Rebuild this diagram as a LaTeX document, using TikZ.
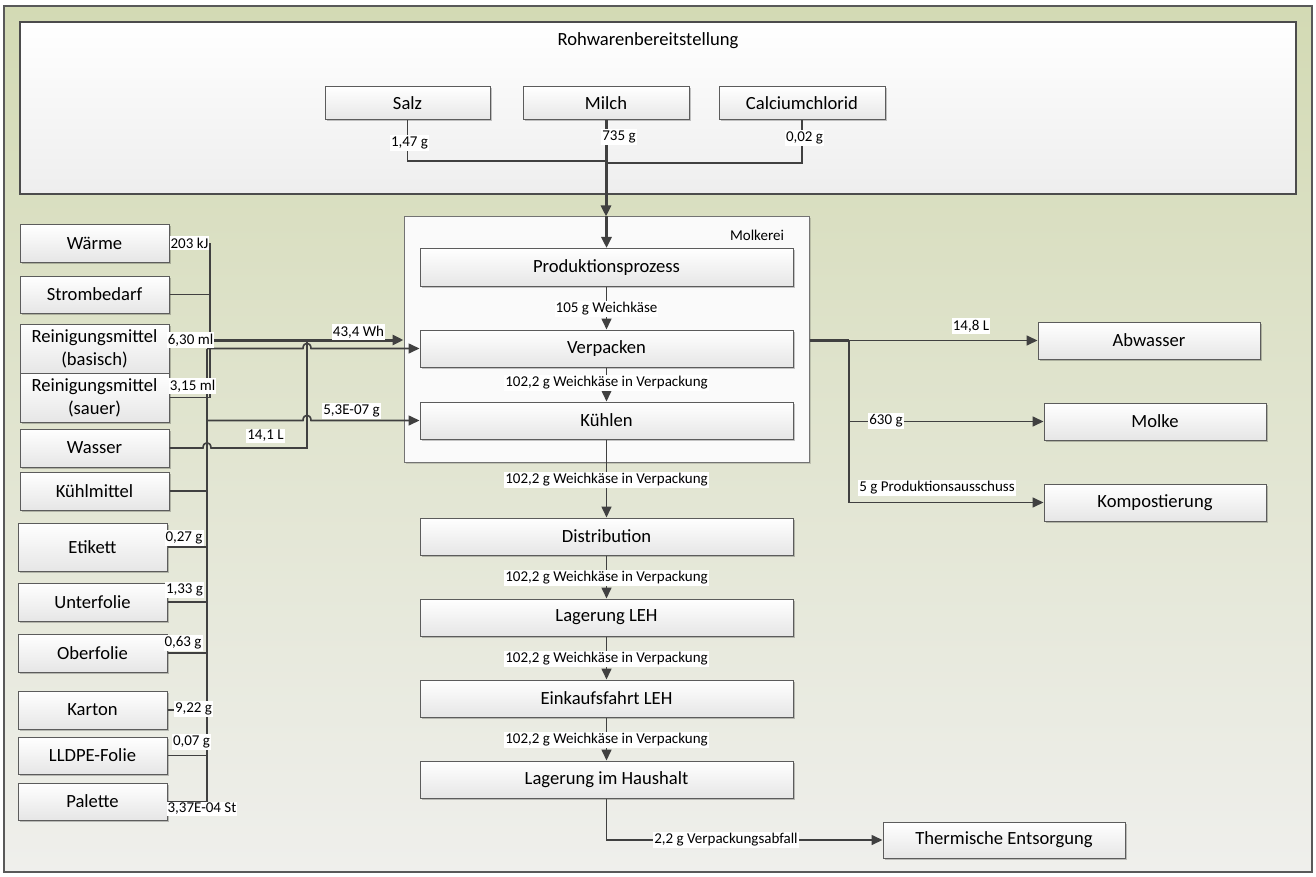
\documentclass[tikz,border=0pt]{standalone}
\usepackage{fontspec}
\setmainfont{Carlito}
\usetikzlibrary{arrows.meta,shadows,calc}
\definecolor{lineC}{HTML}{404040}
\definecolor{boxC}{HTML}{5C5C5C}
\definecolor{boxBot}{HTML}{E6E6E6}
\definecolor{bgTop}{HTML}{D3DAB4}
\definecolor{bgBot}{HTML}{EFEFEC}
\definecolor{groupBot}{HTML}{EEEEEE}
\tikzset{
  box/.style={draw=boxC, line width=1pt, top color=white, bottom color=boxBot,
    inner sep=0pt, align=center, font=\fontsize{18.6}{23}\selectfont,
    drop shadow={shadow xshift=1.5pt, shadow yshift=-1.5pt, fill=black, opacity=0.22}},
  lbl/.style={fill=white, inner xsep=1pt, inner ysep=1.5pt, font=\fontsize{15}{17}\selectfont},
  ln/.style={draw=lineC, line width=1.6pt},
  thk/.style={draw=lineC, line width=3pt},
  tip/.style={-{Triangle[length=11pt,width=10pt]}},
}
\begin{document}
\begin{tikzpicture}[x=1pt,y=-1pt]
\useasboundingbox (0,0) rectangle (1316,877);

% overall background panel
\shade[top color=bgTop, bottom color=bgBot] (4,6) rectangle (1312,872);
\draw[draw=black!65, line width=1.5pt] (4,6) rectangle (1312,872);

% raw material supply group
\shade[top color=white, bottom color=groupBot] (20,22) rectangle (1296,194);
\draw[draw=black!70, line width=1.2pt] (20,22) rectangle (1296,194);
\node[font=\fontsize{18.6}{21}\selectfont] (rohtitle) at (648,41) {Rohwarenbereitstellung};

% dairy group
\node[draw=black!55, line width=1pt, fill=black!2, minimum width=405pt, minimum height=245pt, inner sep=0pt,
  drop shadow={shadow xshift=1.5pt, shadow yshift=-1.5pt, fill=black, opacity=0.15}] (molk) at (606.5,339.5) {};
\node[font=\fontsize{15}{17}\selectfont] (molktitle) at (757,235) {Molkerei};

% raw materials
\node[box, minimum width=165pt, minimum height=33pt] (salz) at (407.5,103.5) {Salz};
\node[box, minimum width=166pt, minimum height=33pt] (milch) at (606,103.5) {Milch};
\node[box, minimum width=166pt, minimum height=33pt] (calc) at (802,103.5) {Calciumchlorid};

% process chain
\node[box, minimum width=373pt, minimum height=38pt] (prod) at (606.5,267.5) {Produktionsprozess};
\node[box, minimum width=373pt, minimum height=37pt] (verp) at (606.5,348.5) {Verpacken};
\node[box, minimum width=373pt, minimum height=37pt] (kuehl) at (606.5,420.5) {Kühlen};
\node[box, minimum width=373pt, minimum height=37pt] (dist) at (606.5,536.5) {Distribution};
\node[box, minimum width=373pt, minimum height=37pt] (lager) at (606.5,617.5) {Lagerung LEH};
\node[box, minimum width=373pt, minimum height=37pt] (eink) at (606.5,698.5) {Einkaufsfahrt LEH};
\node[box, minimum width=373pt, minimum height=37pt] (haus) at (606.5,779.5) {Lagerung im Haushalt};

% inputs on the left
\node[box, minimum width=149pt, minimum height=37pt] (waerme) at (94.5,243.5) {Wärme};
\node[box, minimum width=149pt, minimum height=37pt] (strom) at (94.5,294.5) {Strombedarf};
\node[box, minimum width=149pt, minimum height=49pt] (basisch) at (94.5,348.5) {Reinigungsmittel\\(basisch)};
\node[box, minimum width=149pt, minimum height=49pt] (sauer) at (94.5,397.5) {Reinigungsmittel\\(sauer)};
\node[box, minimum width=149pt, minimum height=38pt] (wasser) at (94.5,448) {Wasser};
\node[box, minimum width=149pt, minimum height=38pt] (kuehlm) at (94.5,491) {Kühlmittel};
\node[box, minimum width=149pt, minimum height=48pt] (etikett) at (92.5,547) {Etikett};
\node[box, minimum width=149pt, minimum height=38pt] (unter) at (92.5,602) {Unterfolie};
\node[box, minimum width=149pt, minimum height=38pt] (ober) at (92.5,653) {Oberfolie};
\node[box, minimum width=149pt, minimum height=38pt] (karton) at (92.5,710) {Karton};
\node[box, minimum width=149pt, minimum height=37pt] (lldpe) at (92.5,755.5) {LLDPE-Folie};
\node[box, minimum width=149pt, minimum height=37pt] (palette) at (92.5,801.5) {Palette};

% outputs on the right
\node[box, minimum width=222pt, minimum height=37pt] (abw) at (1149,340.5) {Abwasser};
\node[box, minimum width=222pt, minimum height=37pt] (molke) at (1155,421.5) {Molke};
\node[box, minimum width=222pt, minimum height=37pt] (kompost) at (1155,502.5) {Kompostierung};
\node[box, minimum width=242pt, minimum height=36pt] (therm) at (1004,840) {Thermische Entsorgung};

% junction points
\coordinate (jRoh) at (606,161);
\coordinate (jA) at (210,340);
\coordinate (bOut) at (169,340);
\coordinate (jB) at (207,348.5);
\coordinate (jK) at (207,420.5);
\coordinate (jW) at (307,340);
\coordinate (jR) at (849,340.5);

% raw material flows
\draw[ln] (salz.south) |- (jRoh);
\draw[ln] (calc.south) |- ($(jRoh)+(0,2)$);
\draw[thk] (milch.south) -- (jRoh);
\draw[thk,tip] (jRoh) -- (jRoh |- molk.north);
\draw[thk,tip] (prod.north |- molk.north) -- (prod.north);

% energy and cleaning agents
\draw[ln] (waerme.east) -| (jA);
\draw[ln] (strom.east) -| (jA);
\draw[ln] (sauer.east) -| (jA);
\draw[thk,tip] (bOut) -- (bOut -| molk.west);

% water, joining the energy line
\draw[ln] (wasser.east) -- (203,448) .. controls (203,441) and (211,441) .. (211,448) -- (307,448) -- (jW);

% packaging materials
\draw[ln] (etikett.east) -| (jB);
\draw[ln] (unter.east) -| (jB);
\draw[ln] (ober.east) -| (jB);
\draw[ln] (karton.east) -| (jB);
\draw[ln] (lldpe.east) -| (jB);
\draw[ln] (palette.east) -| (jB);
\draw[ln,line width=2.2pt] (207,800) -- (jB);
\draw[ln,tip] (jB) -- (303,348.5) .. controls (303,341.5) and (311,341.5) .. (311,348.5) -- (verp.west);

% coolant
\draw[ln] (kuehlm.east) -| (jK);
\draw[ln,tip] (jK) -- (303,420.5) .. controls (303,413.5) and (311,413.5) .. (311,420.5) -- (kuehl.west);

% process chain flows
\draw[ln,tip] (prod.south) -- (verp.north);
\draw[ln,tip] (verp.south) -- (kuehl.north);
\draw[ln,tip] (kuehl.south) -- (dist.north);
\draw[ln,tip] (dist.south) -- (lager.north);
\draw[ln,tip] (lager.south) -- (eink.north);
\draw[ln,tip] (eink.south) -- (haus.north);
\draw[ln,tip] (haus.south) |- (therm.west);

% outputs of the dairy
\draw[ln,line width=2.6pt] (molk.east |- jR) -- (jR);
\draw[ln,tip] (jR) -- (abw.west);
\draw[ln,tip] (jR) |- (molke.west);
\draw[ln,tip] (jR) |- (kompost.west);

% quantities
\node[lbl] (l1) at (409.5,143) {1,47 g};
\node[lbl] (l2) at (619,137) {735 g};
\node[lbl] (l3) at (804.5,138) {0,02 g};
\node[lbl] (l4) at (189.5,243) {203 kJ};
\node[lbl] (l5) at (190.5,340) {6,30 ml};
\node[lbl] (l6) at (192.5,386) {3,15 ml};
\node[lbl] (l7) at (358.5,332) {43,4 Wh};
\node[lbl] (l8) at (351.5,411) {5,3E-07 g};
\node[lbl] (l9) at (265.5,436) {14,1 L};
\node[lbl] (l10) at (184,538) {0,27 g};
\node[lbl] (l11) at (184.5,590) {1,33 g};
\node[lbl] (l12) at (183,643) {0,63 g};
\node[lbl] (l13) at (193.5,709) {9,22 g};
\node[lbl] (l14) at (191.5,742) {0,07 g};
\node[lbl] (l15) at (202,809) {3,37E-04 St};
\node[lbl] (l16) at (606.5,309) {105 g Weichkäse};
\node[lbl] (l17) at (606.5,383) {102,2 g Weichkäse in Verpackung};
\node[lbl] (l18) at (606.5,480) {102,2 g Weichkäse in Verpackung};
\node[lbl] (l19) at (606.5,578) {102,2 g Weichkäse in Verpackung};
\node[lbl] (l20) at (606.5,659) {102,2 g Weichkäse in Verpackung};
\node[lbl] (l21) at (606.5,740) {102,2 g Weichkäse in Verpackung};
\node[lbl] (l22) at (971,326) {14,8 L};
\node[lbl] (l23) at (886,421) {630 g};
\node[lbl] (l24) at (937,488) {5 g Produktionsausschuss};
\node[lbl] (l25) at (726,840) {2,2 g Verpackungsabfall};
\end{tikzpicture}
\end{document}
